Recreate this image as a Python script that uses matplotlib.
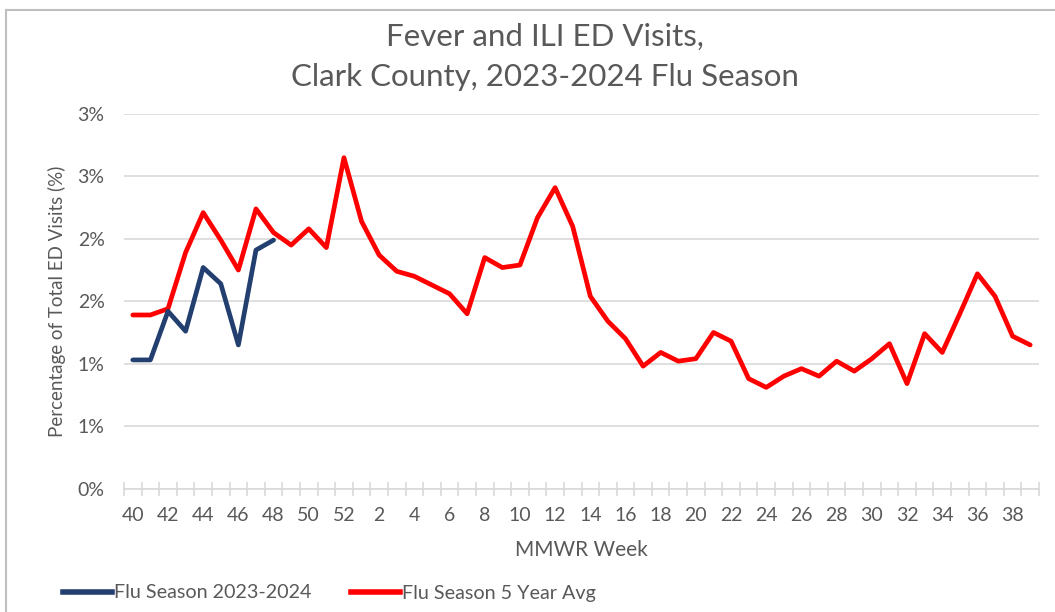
import matplotlib
matplotlib.use("Agg")
import matplotlib.pyplot as plt
from matplotlib.ticker import FuncFormatter, FixedLocator
from matplotlib.lines import Line2D

plt.rcParams['font.family'] = ['Lato', 'DejaVu Sans']

weeks = [40, 41, 42, 43, 44, 45, 46, 47, 48, 49, 50, 51, 52] + list(range(1, 40))
season_2023 = [1.03, 1.03, 1.42, 1.26, 1.77, 1.64, 1.15, 1.91, 1.99]
five_year_avg = [1.39, 1.39, 1.44, 1.89, 2.21, 1.99, 1.75, 2.24, 2.05, 1.95, 2.08, 1.93, 2.65,
                 2.14, 1.87, 1.74, 1.70, 1.63, 1.56, 1.40, 1.85, 1.77, 1.79, 2.17, 2.41, 2.10,
                 1.54, 1.34, 1.20, 0.98, 1.09, 1.02, 1.04, 1.25, 1.18, 0.88, 0.81, 0.90, 0.96,
                 0.90, 1.02, 0.94, 1.04, 1.16, 0.84, 1.24, 1.09, 1.40, 1.72, 1.54, 1.22, 1.15]

W, H = 1055, 612
fig = plt.figure(figsize=(W / 100, H / 100), dpi=100)
ax = fig.add_axes([124 / W, 1 - 488.5 / H, (1039 - 124) / W, (488.5 - 114) / H])

gray = '#595959'
grid = '#d9d9d9'

x = list(range(len(weeks)))
ax.plot(x[:len(season_2023)], season_2023, color='#223f70', lw=3.4, solid_capstyle='round',
        solid_joinstyle='round', zorder=3)
ax.plot(x, five_year_avg, color='#ff0000', lw=3.4, solid_capstyle='round',
        solid_joinstyle='round', zorder=2)

ax.set_xlim(-0.5, len(weeks) - 0.5)
ax.set_ylim(0, 3.0)
ax.set_yticks([0, 0.5, 1.0, 1.5, 2.0, 2.5, 3.0])
ax.yaxis.set_major_formatter(FuncFormatter(lambda v, p: f"{int(v + 0.5 + 1e-9)}%"))
ax.grid(axis='y', color=grid, lw=1.2)
ax.set_axisbelow(True)

labeled = list(range(0, len(weeks), 2))
ax.set_xticks(labeled)
ax.set_xticklabels([str(weeks[i]) for i in labeled])
ax.xaxis.set_minor_locator(FixedLocator([i - 0.5 for i in range(len(weeks) + 1)]))
ax.tick_params(axis='x', which='major', length=0, pad=13, labelsize=14, labelcolor=gray)
ax.tick_params(axis='x', which='minor', length=10, direction='inout', color=grid, width=1.2)
ax.tick_params(axis='y', length=0, pad=14, labelsize=14, labelcolor=gray)

for s in ['top', 'right', 'left']:
    ax.spines[s].set_visible(False)
ax.spines['bottom'].set_color(grid)
ax.spines['bottom'].set_linewidth(1.2)

ax.set_xlabel('MMWR Week', fontsize=15, color=gray, labelpad=12)
ax.set_ylabel('Percentage of Total ED Visits (%)', fontsize=13.5, color=gray, labelpad=8)

fig.text(545 / W, 1 - 37 / H, 'Fever and ILI ED Visits,', ha='center', va='center', fontsize=22.5, color=gray)
fig.text(545 / W, 1 - 77 / H, 'Clark County, 2023-2024 Flu Season', ha='center', va='center', fontsize=22.5, color=gray)

handles = [Line2D([], [], color='#223f70', lw=4), Line2D([], [], color='#ff0000', lw=4)]
fig.legend(handles, ['Flu Season 2023-2024', 'Flu Season 5 Year Avg'], ncol=2,
           loc='center left', bbox_to_anchor=(55 / W, 1 - 593 / H), frameon=False,
           fontsize=14.2, labelcolor=gray, handlelength=2.5, handletextpad=0.1,
           columnspacing=2.0, borderaxespad=0)

fig.add_artist(Line2D([6 / W, 6 / W], [0, 1 - 10 / H], transform=fig.transFigure, color='#bfbfbf', lw=1.5))
fig.add_artist(Line2D([6 / W, 1], [1 - 10 / H, 1 - 10 / H], transform=fig.transFigure, color='#bfbfbf', lw=1.5))

fig.savefig('out.png', dpi=100)
